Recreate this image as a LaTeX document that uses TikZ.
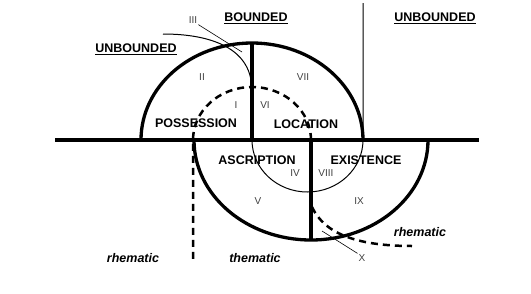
\documentclass[tikz,border=0pt]{standalone}
\usepackage{fontspec}
\setmainfont{Liberation Sans}
\begin{document}
\begin{tikzpicture}[
  x=1pt,y=1pt,
  cat/.style={font=\fontsize{12.5}{14}\selectfont\bfseries,inner sep=1pt},
  num/.style={font=\fontsize{10}{12}\selectfont,text=black!75,inner sep=1pt},
  mode/.style={font=\fontsize{12.5}{14}\selectfont\bfseries\itshape,inner sep=1pt},
  boldline/.style={line width=3.3pt},
  thinline/.style={line width=1pt},
  dashline/.style={line width=2.5pt,dash pattern=on 7pt off 5pt}
]
\useasboundingbox (0,-153) rectangle (531,140);
% base line and the two half ellipses
\coordinate (west) at (55,0);
\coordinate (east) at (479,0);
\draw[boldline] (west) -- (east);
\draw[boldline] (141,0) arc[start angle=180,end angle=0,x radius=111,y radius=97];
\draw[boldline] (252,0) -- (252,97);
\draw[boldline] (194,0) arc[start angle=180,end angle=360,x radius=117,y radius=100];
\draw[boldline] (311,0) -- (311,-100);
% thin boundaries
\draw[thinline] (363,137) -- (363,0) arc[start angle=0,end angle=-180,x radius=55.5,y radius=52];
\draw[thinline] (163,106) .. controls (205,106) and (245,95) .. (251,60);
% dashed boundaries
\draw[dashline] (311,0) arc[start angle=0,end angle=180,x radius=59,y radius=53] -- (193,-123);
\draw[dashline] (312,-67) .. controls (325,-95) and (360,-106) .. (412,-106);

% headings
\node[cat] (bnd)  at (256,122) {\underline{BOUNDED}};
\node[cat] (unbr) at (435,122) {\underline{UNBOUNDED}};
\node[cat] (unbl) at (136,91)  {\underline{UNBOUNDED}};
% categories
\node[cat] (poss) at (196,17)  {POSSESSION};
\node[cat] (loc)  at (306,16)  {LOCATION};
\node[cat] (asc)  at (257,-20) {ASCRIPTION};
\node[cat] (exi)  at (366,-20) {EXISTENCE};
% region numbers
\node[num] (r1) at (236,35)  {I};
\node[num] (r2) at (202,63)  {II};
\node[num] (r3) at (193,120) {III};
\node[num] (r4) at (295,-33) {IV};
\node[num] (r5) at (258,-61) {V};
\node[num] (r6) at (265,35)  {VI};
\node[num] (r7) at (303,63)  {VII};
\node[num] (r8) at (326,-33) {VIII};
\node[num] (r9) at (359,-61) {IX};
\node[num] (r10) at (362,-118) {X};
\coordinate (r3end) at (242,88);
\coordinate (r10end) at (322,-91);
\draw[line width=0.6pt] (r3.south east) -- (r3end);
\draw[line width=0.6pt] (r10.north west) -- (r10end);
% theme labels
\node[mode] (rhl) at (133,-118) {rhematic};
\node[mode] (thm) at (255,-118) {thematic};
\node[mode] (rhr) at (420,-92)  {rhematic};
\end{tikzpicture}
\end{document}
